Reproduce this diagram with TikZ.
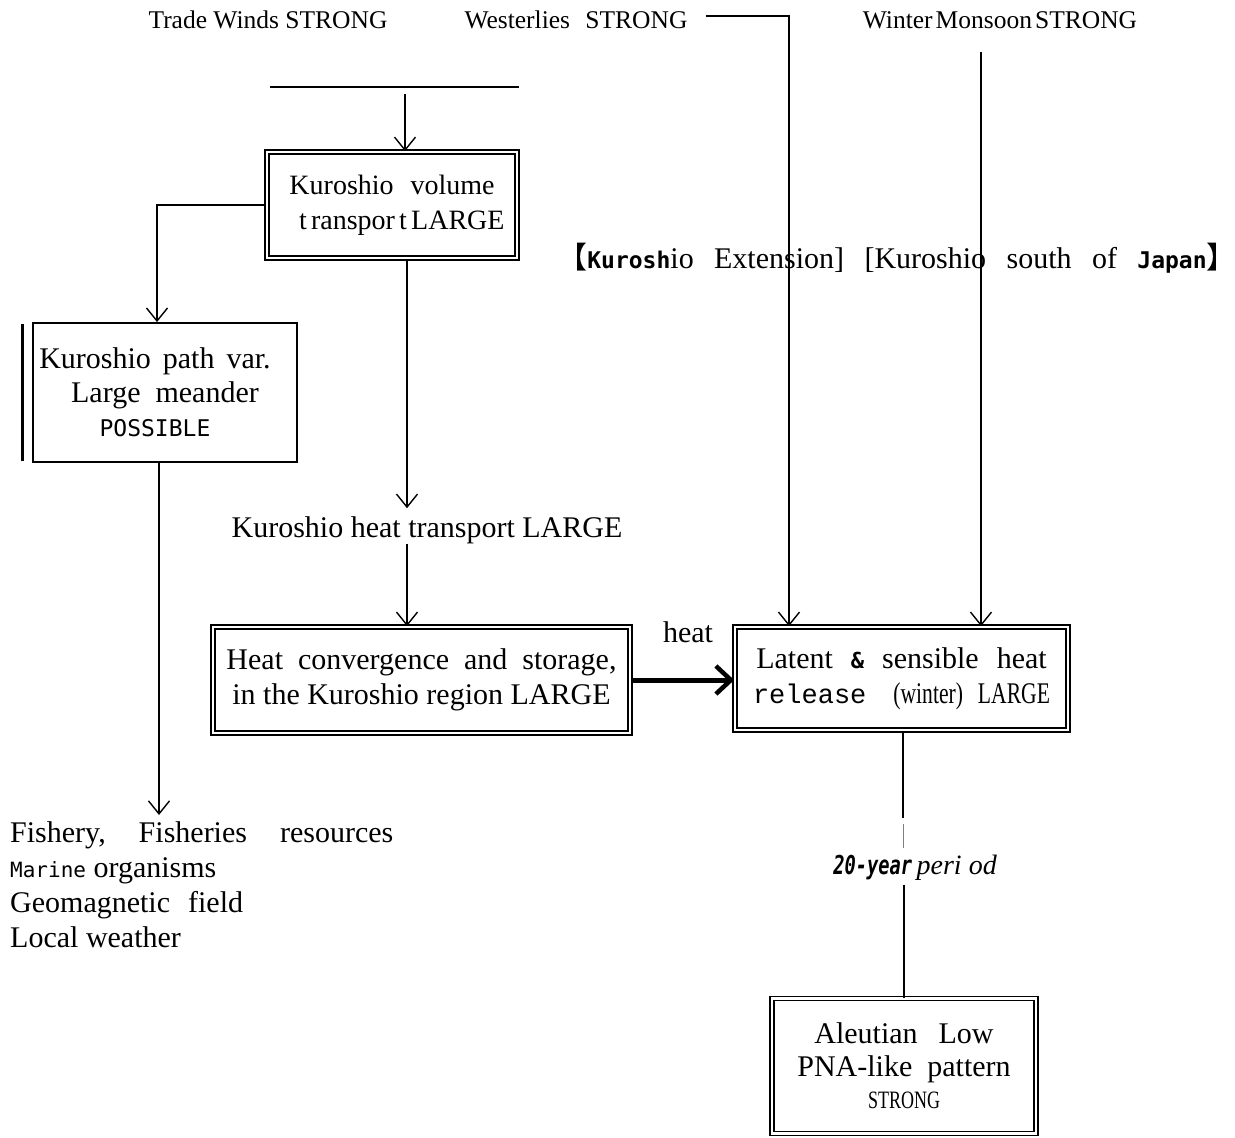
\documentclass[tikz,border=0pt]{standalone}
\usepackage{fontspec}
\setmainfont{Liberation Serif}
\newfontfamily\ocr{DejaVu Sans Mono}
\newfontfamily\ocrc{DejaVu Sans Mono}[FakeStretch=0.72]
\newfontfamily\cour{Liberation Mono}
\newfontfamily\cond{Liberation Serif}[FakeStretch=0.72]
\newfontfamily\cjk{Noto Sans CJK SC}
\usetikzlibrary{arrows.meta}
\tikzset{
  lbl/.style={inner sep=0pt, font=\fontsize{25.5}{30}\selectfont},
  txt/.style={inner sep=0pt, align=center, font=\fontsize{30}{35}\selectfont},
  dbox/.style={draw, line width=1.6pt, double, double distance=2.4pt, inner sep=0pt,
    align=center, font=\fontsize{30}{35}\selectfont},
  sbox/.style={draw, line width=1.8pt, inner sep=0pt, align=center, font=\fontsize{30}{34}\selectfont},
  conn/.style={line width=2.3pt},
  arr/.style={conn, -{Straight Barb[length=13pt,width=21pt,line width=1.4pt]}},
  harr/.style={line width=5pt, -{Straight Barb[length=15pt,width=28pt,line width=4.5pt]}},
}
\begin{document}
\begin{tikzpicture}[x=1pt,y=-1pt]
\useasboundingbox (0,0) rectangle (1235,1138);

% top labels
\node[lbl] (trade) at (268,20) {Trade Winds STRONG};
\node[lbl] (west) at (576,20) {Westerlies\hspace{0.6em}STRONG};
\node[lbl] (mon) at (1000,20) {Winter\hspace{0.12em}Monsoon\hspace{0.12em}STRONG};

\coordinate (hl) at (270,87);
\coordinate (hr) at (519,87);
\coordinate (ht) at (405,94);
\draw[line width=2.8pt] (hl) -- (hr);

% boxes
\node[dbox, minimum width=250pt, minimum height=106pt, font=\fontsize{28}{35}\selectfont] (kv) at (392,205)
  {Kuroshio\hspace{0.6em}volume\\\hspace*{0.7em}t\hspace{0.15em}ranspor\hspace{0.15em}t\hspace{0.15em}LARGE};
\node[sbox, minimum width=264pt, minimum height=139pt] (pv) at (165,392.5)
  {Kuroshio\hspace{0.4em}path\hspace{0.4em}var.\hspace*{20pt}\\Large\hspace{0.5em}meander\hspace*{30pt}\\{\ocr\fontsize{23}{34}\selectfont POSSIBLE}\hspace*{20pt}};
\draw[line width=2.8pt] ([xshift=-10pt,yshift=-2pt]pv.north west) -- ([xshift=-10pt,yshift=2pt]pv.south west);

\node[txt] (kht) at (427,530) {Kuroshio heat transport LARGE};

\node[dbox, minimum width=417pt, minimum height=106pt] (heat) at (421.5,680)
  {Heat\hspace{0.5em}convergence\hspace{0.5em}and\hspace{0.5em}storage,\\in the Kuroshio region LARGE};
\node[dbox, minimum width=333pt, minimum height=103pt] (lat) at (901.5,678.5)
  {Latent\hspace{0.6em}{\ocr\bfseries\fontsize{22}{35}\selectfont\&}\hspace{0.6em}sensible\hspace{0.6em}heat\\{\cour\fontsize{27}{35}\selectfont release}\hspace{0.9em}{\cond (winter)\hspace{0.5em}LARGE}};
\node[txt] (hlab) at (688,632) {heat};

\node[txt] (ext) at (897,258)
  {{\cjk 【}{\ocr\bfseries\fontsize{23}{30}\selectfont Kurosh}io\hspace{0.68em}Extension]\hspace{0.68em}[Kuroshio\hspace{0.68em}south\hspace{0.68em}of\hspace{0.68em}{\ocr\bfseries\fontsize{23}{30}\selectfont Japan}{\cjk 】}};

\node[txt, align=left, anchor=north west] (fish) at (10,821)
  {Fishery,\hspace{1.1em}Fisheries\hspace{1.1em}resources\\
   {\ocr\fontsize{21}{34}\selectfont Marine} organisms\\
   Geomagnetic\hspace{0.6em}field\\
   Local weather};

\node[inner sep=0pt] (per) at (915,868)
  {{\ocrc\bfseries\itshape\fontsize{26}{28}\selectfont 20-year}\hspace{0.45em}{\itshape\fontsize{28}{28}\selectfont peri od}};

\node[dbox, minimum width=264pt, minimum height=135pt, font=\fontsize{30}{32.5}\selectfont] (al) at (904,1066)
  {Aleutian\hspace{0.7em}Low\\PNA-like\hspace{0.5em}pattern\\{\cond\fontsize{25}{32.5}\selectfont STRONG}};

% connectors
\draw[arr] (ht) -- (ht |- kv.north);
\draw[arr] (kv.west) -| ([xshift=-8pt]pv.north);
\draw[arr] ([xshift=-6pt]pv.south) -- ([xshift=-6pt,yshift=6pt]pv.south |- fish.north);

\coordinate (kx) at (407,0);
\draw[arr] (kx |- kv.south) -- ([yshift=8pt]kx |- kht.north);
\draw[arr] (kx |- kht.south) -- (kx |- heat.north);

\draw[harr] (heat.east) -- (heat.east -| lat.west);

\coordinate (wc) at (789,16);
\draw[arr] ([xshift=18pt,yshift=4pt]west.east) -- (wc) -- (wc |- lat.north);
\coordinate (mc) at (981,52);
\draw[arr] (mc) -- (mc |- lat.north);

\coordinate (p1) at (903,818);
\coordinate (g1) at (903,824);
\coordinate (g2) at (903,848);
\draw[conn] (lat.south -| p1) -- (p1);
\draw[gray, line width=0.8pt] (g1) -- (g2);
\draw[conn] ([yshift=-4pt]per.south -| al.north) -- (al.north);
\end{tikzpicture}
\end{document}
